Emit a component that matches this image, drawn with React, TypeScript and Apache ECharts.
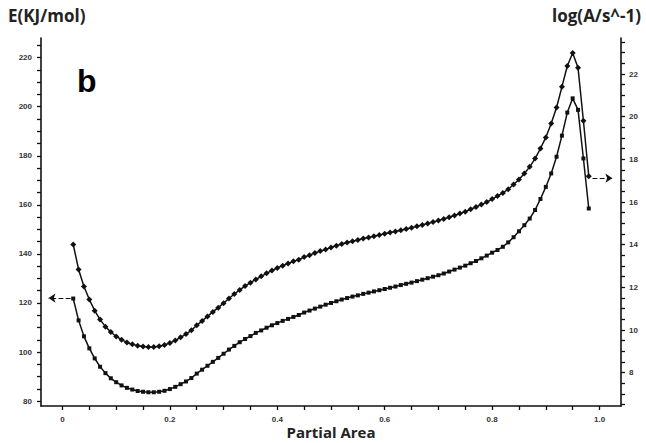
import React, { useEffect, useRef } from "react";
import * as echarts from "echarts";

// Partial area (x) for every measured point
const partialArea = [
  0.02, 0.03, 0.04, 0.05, 0.06, 0.07, 0.08, 0.09, 0.1, 0.11,
  0.12, 0.13, 0.14, 0.15, 0.16, 0.17, 0.18, 0.19, 0.2, 0.21,
  0.22, 0.23, 0.24, 0.25, 0.26, 0.27, 0.28, 0.29, 0.3, 0.31,
  0.32, 0.33, 0.34, 0.35, 0.36, 0.37, 0.38, 0.39, 0.4, 0.41,
  0.42, 0.43, 0.44, 0.45, 0.46, 0.47, 0.48, 0.49, 0.5, 0.51,
  0.52, 0.53, 0.54, 0.55, 0.56, 0.57, 0.58, 0.59, 0.6, 0.61,
  0.62, 0.63, 0.64, 0.65, 0.66, 0.67, 0.68, 0.69, 0.7, 0.71,
  0.72, 0.73, 0.74, 0.75, 0.76, 0.77, 0.78, 0.79, 0.8, 0.81,
  0.82, 0.83, 0.84, 0.85, 0.86, 0.87, 0.88, 0.89, 0.9, 0.91,
  0.92, 0.93, 0.94, 0.95, 0.96, 0.97, 0.98,
];

// Activation energy E (KJ/mol), left axis (lower curve)
const energy = [
  121.8, 112.9, 106.4, 101.5, 97.4, 94.0, 91.4, 89.3, 87.7, 86.4,
  85.4, 84.7, 84.1, 83.8, 83.6, 83.6, 83.8, 84.2, 84.9, 85.8,
  86.9, 88.0, 89.4, 91.2, 92.8, 94.4, 96.0, 97.6, 99.3, 101.0,
  102.5, 104.0, 105.3, 106.5, 107.8, 108.8, 109.9, 110.9, 111.8, 112.7,
  113.5, 114.3, 115.1, 116.1, 116.9, 117.7, 118.5, 119.3, 120.0, 120.7,
  121.4, 122.0, 122.6, 123.1, 123.7, 124.2, 124.7, 125.2, 125.7, 126.2,
  126.7, 127.3, 127.8, 128.3, 128.9, 129.5, 130.1, 130.7, 131.3, 132.0,
  132.8, 133.6, 134.4, 135.2, 136.2, 137.1, 138.2, 139.3, 140.5, 141.6,
  142.9, 144.7, 146.8, 149.2, 151.7, 154.4, 157.9, 162.4, 167.3, 172.8,
  179.6, 188.2, 197.6, 203.4, 198.7, 178.9, 158.5,
];

// log(A/s^-1), right axis (upper curve)
const logA = [
  14.01, 12.84, 12.04, 11.43, 10.91, 10.49, 10.16, 9.91, 9.7, 9.55,
  9.42, 9.33, 9.27, 9.23, 9.21, 9.21, 9.24, 9.3, 9.39, 9.51,
  9.66, 9.81, 9.99, 10.22, 10.43, 10.64, 10.85, 11.05, 11.26, 11.48,
  11.69, 11.88, 12.06, 12.22, 12.37, 12.52, 12.66, 12.79, 12.91, 13.02,
  13.12, 13.22, 13.3, 13.42, 13.51, 13.61, 13.7, 13.78, 13.87, 13.95,
  14.03, 14.1, 14.16, 14.22, 14.29, 14.34, 14.4, 14.45, 14.51, 14.57,
  14.62, 14.68, 14.74, 14.8, 14.86, 14.93, 14.99, 15.06, 15.13, 15.21,
  15.29, 15.37, 15.46, 15.55, 15.66, 15.77, 15.88, 16.0, 16.14, 16.28,
  16.43, 16.6, 16.82, 17.06, 17.34, 17.65, 18.04, 18.51, 19.03, 19.68,
  20.43, 21.4, 22.38, 22.99, 22.29, 19.81, 17.21,
];

// tick labels
const xTickLabels = [0, 0.2, 0.4, 0.6, 0.8, 1.0];
const leftTickLabels = [80, 100, 120, 140, 160, 180, 200, 220];
const rightTickLabels = [8, 10, 12, 14, 16, 18, 20, 22];

// minor tick positions
const steps = (a: number, b: number, s: number) => {
  const out: number[] = [];
  const n = Math.round((b - a) / s);
  for (let i = 0; i <= n; i++) out.push(Math.round((a + i * s) * 1000) / 1000);
  return out;
};
const xTicks = steps(0, 1, 0.05);
const leftTicks = steps(80, 225, 5);
const rightTicks = steps(6.5, 23.5, 0.5);

const BLACK = "#111";
const labelFont = {
  fontSize: 8,
  fontWeight: "bold" as const,
  color: "#333",
  fontFamily: "Liberation Sans, Arial, sans-serif",
};

export default function App() {
  const ref = useRef<HTMLDivElement>(null);
  useEffect(() => {
    if (!ref.current) return;
    const chart = echarts.init(ref.current, undefined, { renderer: "svg" });
    const eData = partialArea.map((x, i) => [x, energy[i]]);
    const aData = partialArea.map((x, i) => [x, logA[i]]);
    const axisLine = { show: true, onZero: false, lineStyle: { color: BLACK, width: 1.6 } };
    const axisTickBase = { show: true, inside: false, length: 4, lineStyle: { color: BLACK, width: 1.3 } };
    chart.setOption({
      animation: false,
      backgroundColor: "#fff",
      grid: { left: 41, right: 25, top: 38, bottom: 37, containLabel: false },
      xAxis: {
        type: "value",
        min: -0.04,
        max: 1.04,
        axisLine,
        axisTick: { ...axisTickBase, customValues: xTicks },
        axisLabel: {
          ...labelFont,
          margin: 9,
          customValues: xTickLabels,
          formatter: (v: number) => (v === 0 ? "0" : v.toFixed(1)),
        },
        splitLine: { show: false },
      },
      yAxis: [
        {
          type: "value",
          position: "left",
          min: 78,
          max: 228,
          axisLine,
          axisTick: { ...axisTickBase, customValues: leftTicks },
          axisLabel: { ...labelFont, margin: 9, customValues: leftTickLabels },
          splitLine: { show: false },
        },
        {
          type: "value",
          position: "right",
          min: 6.44,
          max: 23.69,
          axisLine,
          axisTick: { ...axisTickBase, customValues: rightTicks },
          axisLabel: { ...labelFont, margin: 8, customValues: rightTickLabels },
          splitLine: { show: false },
        },
      ],
      series: [
        {
          name: "E",
          type: "line",
          yAxisIndex: 0,
          data: eData,
          symbol: "rect",
          symbolSize: 4,
          showSymbol: true,
          itemStyle: { color: BLACK },
          lineStyle: { color: BLACK, width: 1.5 },
          markLine: {
            silent: true,
            symbol: ["none", "arrow"],
            symbolSize: 7,
            label: { show: false },
            lineStyle: { color: BLACK, type: "dashed", width: 1.2 },
            data: [[{ coord: [0.015, 122.0] }, { coord: [-0.026, 122.0] }]],
          },
        },
        {
          name: "logA",
          type: "line",
          yAxisIndex: 1,
          data: aData,
          symbol: "diamond",
          symbolSize: 6,
          showSymbol: true,
          itemStyle: { color: BLACK },
          lineStyle: { color: BLACK, width: 1.5 },
          markLine: {
            silent: true,
            symbol: ["none", "arrow"],
            symbolSize: 7,
            label: { show: false },
            lineStyle: { color: BLACK, type: "dashed", width: 1.2 },
            data: [[{ coord: [0.987, 17.12] }, { coord: [1.024, 17.12] }]],
          },
        },
      ],
      graphic: [
        {
          type: "text",
          left: 8,
          top: 7,
          style: {
            text: "E(KJ/mol)",
            font: "bold 17px 'Open Sans', sans-serif",
            fill: "#222",
          },
        },
        {
          type: "text",
          right: 5,
          top: 7,
          style: {
            text: "log(A/s^-1)",
            font: "bold 17px 'Open Sans', sans-serif",
            fill: "#222",
          },
        },
        {
          type: "text",
          x: 331,
          y: 432,
          style: {
            text: "Partial Area",
            font: "bold 15px 'Open Sans', sans-serif",
            fill: "#222",
            align: "center",
            verticalAlign: "middle",
          },
        },
        {
          type: "text",
          x: 77,
          y: 81,
          style: {
            text: "b",
            font: "bold 32px 'Liberation Sans', Arial, sans-serif",
            fill: "#000",
            align: "left",
            verticalAlign: "middle",
          },
        },
      ],
    });
    return () => chart.dispose();
  }, []);
  return (
    <div
      ref={ref}
      style={{ position: "fixed", left: 0, top: 0, width: 646, height: 443, background: "#fff" }}
    />
  );
}
